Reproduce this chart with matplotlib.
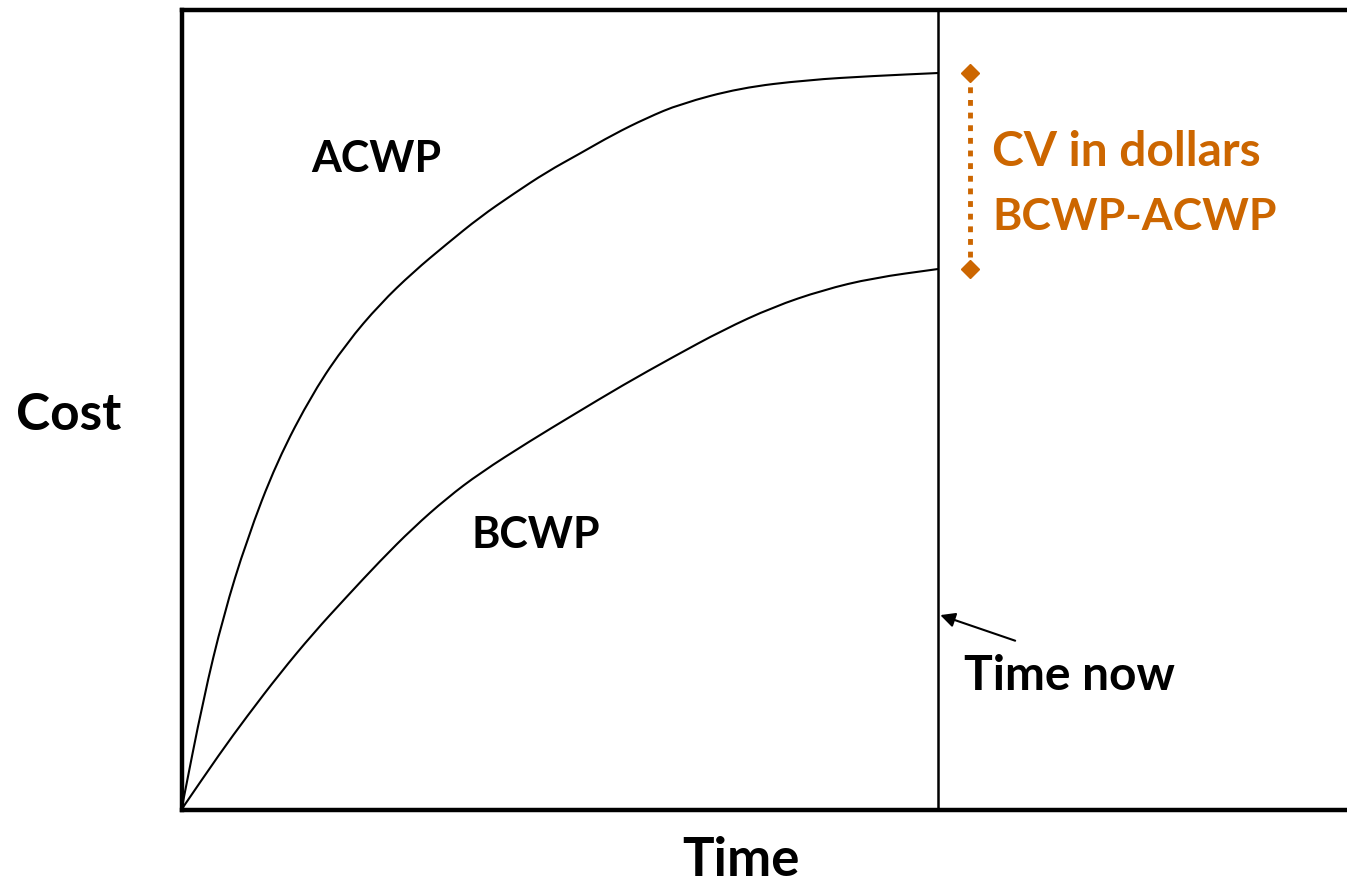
import matplotlib
matplotlib.use("Agg")
import matplotlib.pyplot as plt
from matplotlib.path import Path
from matplotlib.patches import PathPatch

# --- Datos (tiempo: 0..10 = "time now", costo: 0..100) ---
t_acwp = [0, 0.288, 0.553, 0.862, 1.258, 1.742, 2.184, 2.624, 3.064, 3.506,
          3.946, 4.386, 4.827, 5.268, 5.708, 6.149, 6.590, 7.383, 8.269,
          9.141, 10]
acwp = [0, 13.81, 24.19, 33.69, 43.44, 52.19, 58.31, 63.19, 67.19, 70.69,
        74.06, 76.94, 79.69, 82.0, 84.38, 86.44, 88.19, 90.19, 91.19,
        91.69, 92.06]

t_bcwp = [0, 0.509, 0.862, 1.302, 1.742, 2.184, 2.624, 3.060, 3.510,
          3.946, 4.607, 5.175, 5.836, 6.497, 7.158, 7.819, 8.480, 9.141, 10]
bcwp = [0, 7.03, 11.60, 17.03, 22.03, 26.60, 31.06, 35.19, 38.94,
        42.06, 46.06, 49.31, 53.06, 56.56, 59.94, 62.81, 64.94, 66.44, 67.56]

time_now = 10
cv_x = 10.42
orange = '#CC6600'
font = 'Lato'


def curva_suave(ax, xs, ys, **kw):
    # curva cuadratica por los puntos medios (sin esquinas)
    pts = list(zip(xs, ys))
    verts = [pts[0]]
    codes = [Path.MOVETO]
    mid = lambda a, b: ((a[0] + b[0]) / 2, (a[1] + b[1]) / 2)
    verts.append(mid(pts[0], pts[1]))
    codes.append(Path.LINETO)
    for i in range(1, len(pts) - 1):
        verts += [pts[i], mid(pts[i], pts[i + 1])]
        codes += [Path.CURVE3, Path.CURVE3]
    verts.append(pts[-1])
    codes.append(Path.LINETO)
    ax.add_patch(PathPatch(Path(verts, codes), fill=False, **kw))


W, H = 1347, 884
fig = plt.figure(figsize=(W / 100, H / 100), dpi=100)
# ejes: borde derecho fuera de la imagen
left, bottom, top = 181.5, 809.5, 9.5
ax = fig.add_axes([left / W, (H - bottom) / H, (W + 20 - left) / W, (bottom - top) / H])
ax.set_xlim(0, (W + 20 - left) / 75.65)
ax.set_ylim(0, 100)
ax.set_xticks([])
ax.set_yticks([])
for s in ax.spines.values():
    s.set_linewidth(3.2)
ax.spines['right'].set_visible(False)

curva_suave(ax, t_acwp, acwp, edgecolor='black', lw=1.5)
curva_suave(ax, t_bcwp, bcwp, edgecolor='black', lw=1.5)
ax.axvline(time_now, color='black', lw=1.8)

# --- CV ---
ax.plot([cv_x, cv_x], [bcwp[-1] + 1.5, acwp[-1] - 1.5], color=orange, lw=3.5,
        linestyle=(0, (1.2, 1.4)))
ax.plot([cv_x, cv_x], [bcwp[-1], acwp[-1]], linestyle='none', marker='D',
        markersize=9.5, color=orange)
ax.text(cv_x + 0.3, 82.2, 'CV in dollars', color=orange, fontsize=34.5,
        fontweight='bold', family=font, ha='left', va='center')
ax.text(cv_x + 0.3, 74.1, 'BCWP-ACWP', color=orange, fontsize=32,
        fontweight='bold', family=font, ha='left', va='center')

# --- Etiquetas ---
ax.text(2.58, 81.3, 'ACWP', fontsize=31, fontweight='bold', family=font,
        ha='center', va='center')
ax.text(4.69, 34.3, 'BCWP', fontsize=31, fontweight='bold', family=font,
        ha='center', va='center')
ax.annotate('', xy=(10.03, 24.3), xytext=(11.02, 21.1),
            arrowprops=dict(arrowstyle='-|>', mutation_scale=22, lw=1.5,
                            color='black', shrinkA=0, shrinkB=0))
ax.text(11.74, 16.7, 'Time now', fontsize=34.5, fontweight='bold', family=font,
        ha='center', va='center')

fig.text(69 / W, 1 - 416 / H, 'Cost', fontsize=37, fontweight='bold',
         family=font, ha='center', va='center')
fig.text(741 / W, 1 - 861 / H, 'Time', fontsize=38, fontweight='bold',
         family=font, ha='center', va='center')

fig.savefig('out.png', dpi=100)
